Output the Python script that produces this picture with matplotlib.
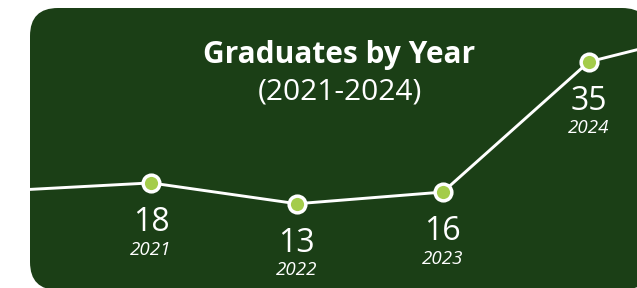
import matplotlib
matplotlib.use('Agg')
import matplotlib.pyplot as plt
from matplotlib.patches import FancyBboxPatch
import numpy as np

# data
years = [2021, 2022, 2023, 2024]
graduates = [18, 13, 16, 35]
year_labels = ['2021', '2022', '2023', '2024']
# the line runs in from the left edge and out past the right edge
lead_in = (2020, 16.3)
lead_out = (2025, 38.7)

bg_green = '#1b3f16'
dot_green = '#a4cc4a'

plt.rcParams['font.family'] = ['Open Sans', 'DejaVu Sans']

fig = plt.figure(figsize=(6.37, 2.88), dpi=100)
fig.patch.set_facecolor('white')

# background axes in pixel units, for the rounded panel
bg = fig.add_axes([0, 0, 1, 1], zorder=0)
bg.set_xlim(0, 637)
bg.set_ylim(288, 0)
bg.axis('off')
bg.add_patch(FancyBboxPatch((30, 8), 620, 282,
                            boxstyle='round,pad=0,rounding_size=28',
                            facecolor=bg_green, edgecolor='none'))

ax = fig.add_axes([0, 0, 1, 1], zorder=1)
ax.set_facecolor('none')

# signed square scale, bigger values get more room
fwd = lambda v: np.sign(v) * v ** 2
inv = lambda u: np.sign(u) * np.sqrt(np.abs(u))
ax.set_yscale('function', functions=(fwd, inv))
ax.set_xlim(2019.966, 2024.33)
ax.set_ylim(-21.4, 41.05)
ax.axis('off')

ax.plot([lead_in[0], years[0]], [lead_in[1], graduates[0]], color='white', lw=2.1, zorder=2)
ax.plot([years[-1], lead_out[0]], [graduates[-1], lead_out[1]], color='white', lw=2.1, zorder=2)
ax.plot(years, graduates, color='white', lw=2.1, zorder=3,
        marker='o', ms=12, mfc=dot_green, mec='white', mew=2.5)

for x, v, lab in zip(years, graduates, year_labels):
    ax.annotate(str(v), (x, v), xytext=(0, -28.5), textcoords='offset points',
                ha='center', va='center', color='white', fontsize=23)
    ax.annotate(lab, (x, v), xytext=(0, -48), textcoords='offset points',
                ha='center', va='center', color='white', fontsize=13.5, style='italic')

fig.text(339.5 / 637, 225 / 288, 'Graduates by Year', ha='center', va='baseline',
         color='white', fontsize=21.5, fontweight='bold', zorder=5)
fig.text(339.5 / 637, 189 / 288, '(2021-2024)', ha='center', va='baseline',
         color='white', fontsize=21.5, zorder=5)

fig.savefig('out.png', dpi=100, facecolor='white')
